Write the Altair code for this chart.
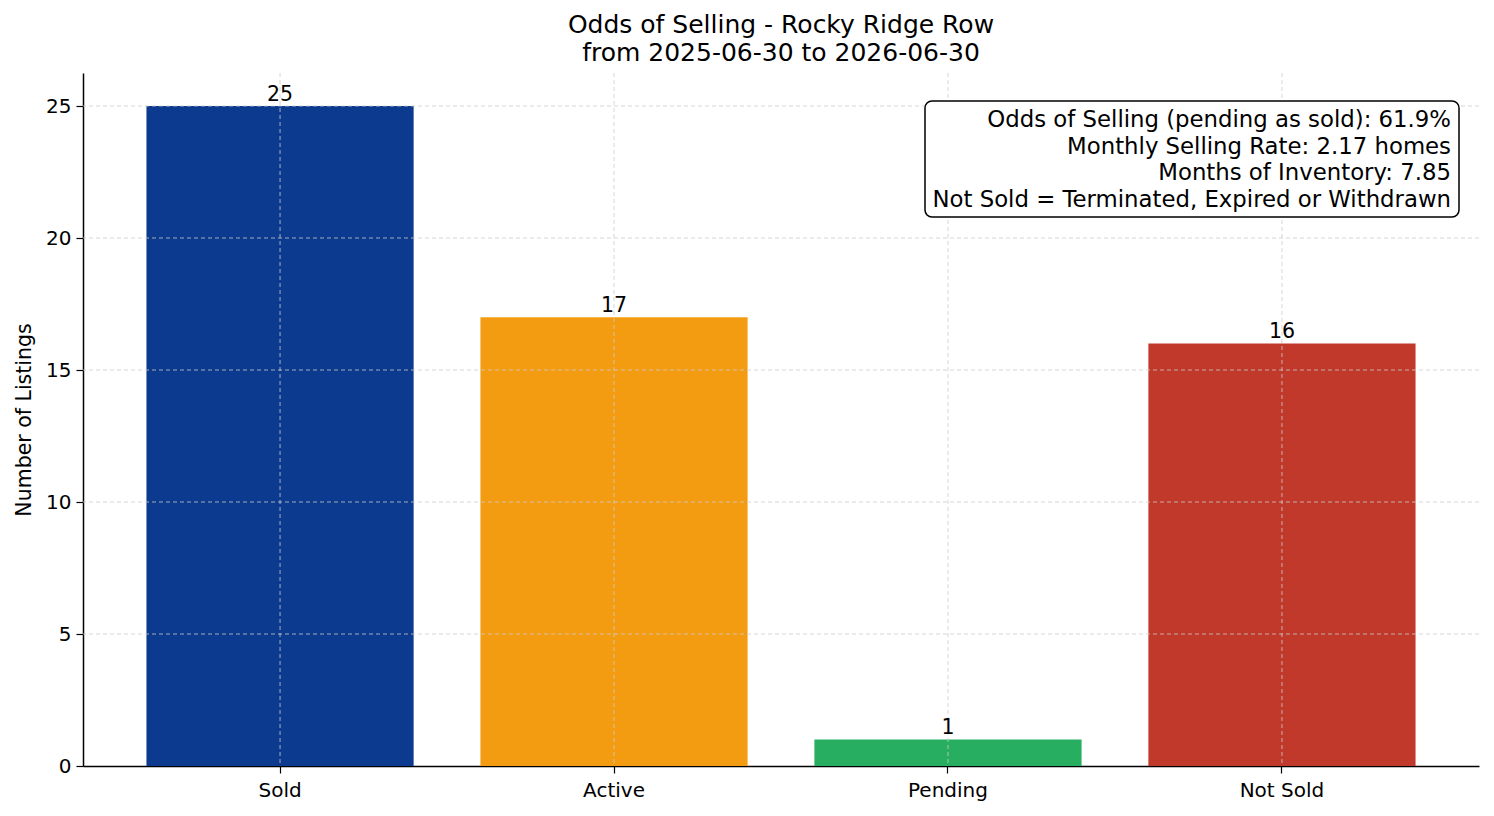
import altair as alt
import pandas as pd

# Listing counts by status
categories = ["Sold", "Active", "Pending", "Not Sold"]
counts = [25, 17, 1, 16]
bar_colors = ["#0b3a8e", "#f39c12", "#27ae60", "#c0392b"]
y_ticks = [0, 5, 10, 15, 20, 25]
y_max = 26.25

title_lines = ["Odds of Selling - Rocky Ridge Row", "from 2025-06-30 to 2026-06-30"]
note_lines = [
    "Odds of Selling (pending as sold): 61.9%",
    "Monthly Selling Rate: 2.17 homes",
    "Months of Inventory: 7.85",
    "Not Sold = Terminated, Expired or Withdrawn",
]

FONT = "DejaVu Sans"
W, H = 1396, 693

bars_df = pd.DataFrame({"status": categories, "count": counts})
ygrid_df = pd.DataFrame({"count": y_ticks})
xgrid_df = pd.DataFrame({"status": categories})
note_df = pd.DataFrame({"note": ["\n".join(note_lines)]})

x_scale = alt.Scale(domain=categories, paddingInner=0.2, paddingOuter=0.19)
y_scale = alt.Scale(domain=[0, y_max], nice=False, zero=True)

x_axis = alt.Axis(labelAngle=0, bandPosition=0.5)


def x_center():
    return alt.X("status:N", scale=x_scale, sort=categories, bandPosition=0.5,
                 title=None, axis=x_axis)


y_enc = alt.Y(
    "count:Q",
    scale=y_scale,
    title="Number of Listings",
    axis=alt.Axis(values=y_ticks, format="d"),
)

bars = alt.Chart(bars_df).mark_bar().encode(
    x=alt.X("status:N", scale=x_scale, sort=categories, title=None, axis=x_axis),
    y=y_enc,
    color=alt.Color("status:N", scale=alt.Scale(domain=categories, range=bar_colors), legend=None),
)

grid_style = dict(color="#cccccc", strokeDash=[4, 3], strokeWidth=0.8)

ygrid = alt.Chart(ygrid_df).transform_filter("datum.count > 0").mark_rule(**grid_style).encode(y=y_enc)
xgrid = alt.Chart(xgrid_df).mark_rule(**grid_style).encode(x=x_center())

labels = alt.Chart(bars_df).mark_text(
    font=FONT, fontSize=20.5, color="black", baseline="alphabetic", dy=-5.5
).encode(
    x=x_center(),
    y=y_enc,
    text=alt.Text("count:Q", format="d"),
)

note_box = alt.Chart(note_df).mark_rect(
    fill="white", stroke="black", strokeWidth=1.5, cornerRadius=7
).encode(
    x=alt.value(842), x2=alt.value(1376), y=alt.value(28), y2=alt.value(144)
)

note_text = alt.Chart(note_df).mark_text(
    font=FONT, fontSize=22.8, align="right", baseline="middle",
    lineBreak="\n", lineHeight=26.7, color="black"
).encode(
    x=alt.value(1368), y=alt.value(47), text="note:N"
)

chart = alt.layer(bars, ygrid, xgrid, labels, note_box, note_text).properties(
    width=W,
    height=H,
    autosize=alt.AutoSizeParams(type="none"),
    padding={"left": 83, "top": 73, "right": 15, "bottom": 50},
    title=alt.TitleParams(
        text=title_lines, font=FONT, fontSize=25, fontWeight="normal",
        anchor="middle", offset=6.5, lineHeight=28, color="black",
    ),
).configure_view(
    stroke=None
).configure_axis(
    grid=False,
    zindex=1,
    labelFont=FONT,
    labelFontSize=20,
    labelColor="black",
    titleFont=FONT,
    titleFontSize=20.5,
    titleFontWeight="normal",
    titleColor="black",
    domainColor="black",
    domainWidth=1.5,
    tickColor="black",
    tickWidth=1.2,
    tickSize=7,
).configure_axisY(
    labelPadding=5, titlePadding=11
).configure_axisX(
    labelPadding=7
)

chart.save("out.html", embed_options={"renderer": "svg", "actions": False})
